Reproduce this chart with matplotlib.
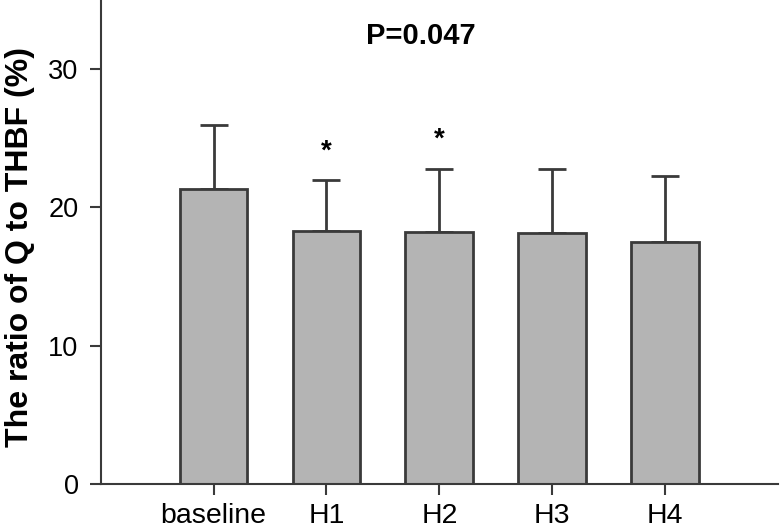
import matplotlib.pyplot as plt

plt.rcParams['font.family'] = ['Liberation Sans', 'DejaVu Sans']

groups = ['baseline', 'H1', 'H2', 'H3', 'H4']
means = [21.3, 18.3, 18.25, 18.15, 17.5]
sd = [4.65, 3.7, 4.55, 4.65, 4.8]
star_groups = ['H1', 'H2']
star_y = [24.0, 24.9]

fig = plt.figure(figsize=(7.81, 5.30), dpi=100)
ax = fig.add_axes([0.129, 0.087, 0.867, 0.913])

x = list(range(len(groups)))
ax.bar(x, means, width=0.6, color='#b4b4b4', edgecolor='#3a3a3a', linewidth=2, zorder=2)
ax.errorbar(x, means, yerr=[[0] * len(sd), sd], fmt='none', ecolor='#3a3a3a',
            elinewidth=2, capsize=10, capthick=2, zorder=1)

for g, yy in zip(star_groups, star_y):
    ax.text(groups.index(g), yy, '*', ha='center', va='center', fontsize=20, fontweight='bold')

ax.text(1.84, 32.4, 'P=0.047', ha='center', va='center', fontsize=21, fontweight='bold')

ax.set_xlim(-1, 5)
ax.set_ylim(0, 35)
ax.set_xticks(x)
ax.set_xticklabels(groups, fontsize=20.5)
ax.set_yticks([0, 10, 20, 30])
ax.tick_params(axis='y', labelsize=19.5, length=8, width=1.5, color='#3a3a3a', pad=8)
ax.tick_params(axis='x', length=8, width=1.5, color='#3a3a3a', pad=6)
ax.set_ylabel('The ratio of Q to THBF (%)', fontsize=23, fontweight='bold')
ax.yaxis.set_label_coords(-0.097, 0.49)

for s in ['top', 'right']:
    ax.spines[s].set_visible(False)
for s in ['left', 'bottom']:
    ax.spines[s].set_linewidth(1.5)
    ax.spines[s].set_color('#3a3a3a')

fig.savefig('out.png', dpi=100)
